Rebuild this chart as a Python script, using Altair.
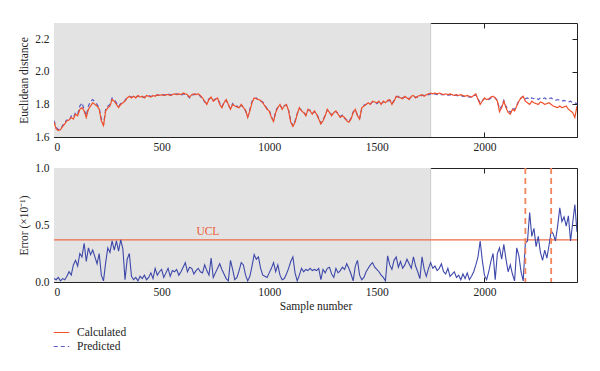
import altair as alt
import pandas as pd

STEP = 10  # sample spacing of the values

calculated = [
    1.69, 1.65, 1.64, 1.645, 1.665, 1.68, 1.70, 1.705, 1.72, 1.71,
    1.74, 1.73, 1.77, 1.78, 1.76, 1.72, 1.77, 1.79, 1.81, 1.80,
    1.79, 1.77, 1.70, 1.67, 1.76, 1.78, 1.79, 1.83, 1.82, 1.80,
    1.78, 1.80, 1.81, 1.82, 1.84, 1.85, 1.84, 1.85, 1.84, 1.855,
    1.845, 1.85, 1.84, 1.855, 1.85, 1.845, 1.855, 1.85, 1.86, 1.855,
    1.86, 1.855, 1.86, 1.86, 1.855, 1.86, 1.865, 1.86, 1.865, 1.86,
    1.87, 1.865, 1.86, 1.845, 1.86, 1.865, 1.86, 1.865, 1.855, 1.84,
    1.82, 1.80, 1.83, 1.845, 1.82, 1.83, 1.84, 1.80, 1.78, 1.81,
    1.83, 1.80, 1.77, 1.80, 1.79, 1.785, 1.78, 1.80, 1.78, 1.765,
    1.72, 1.76, 1.81, 1.84, 1.835, 1.83, 1.825, 1.81, 1.79, 1.77,
    1.76, 1.72, 1.695, 1.75, 1.78, 1.80, 1.77, 1.79, 1.80, 1.76,
    1.69, 1.665, 1.69, 1.74, 1.78, 1.76, 1.75, 1.73, 1.77, 1.76,
    1.74, 1.76, 1.74, 1.71, 1.68, 1.70, 1.73, 1.77, 1.75, 1.73,
    1.75, 1.76, 1.74, 1.72, 1.73, 1.72, 1.70, 1.69, 1.71, 1.75,
    1.77, 1.73, 1.71, 1.78, 1.79, 1.80, 1.81, 1.80, 1.82, 1.815,
    1.81, 1.82, 1.80, 1.82, 1.81, 1.825, 1.83, 1.80, 1.82, 1.85,
    1.845, 1.84, 1.835, 1.85, 1.84, 1.83, 1.85, 1.855, 1.84, 1.85,
    1.855, 1.86, 1.85, 1.86, 1.865, 1.87, 1.865, 1.87, 1.865, 1.87,
    1.865, 1.86, 1.865, 1.86, 1.865, 1.86, 1.855, 1.86, 1.855, 1.86,
    1.855, 1.85, 1.855, 1.85, 1.845, 1.855, 1.865, 1.83, 1.80, 1.82,
    1.84, 1.83, 1.835, 1.845, 1.85, 1.84, 1.82, 1.755, 1.78, 1.82,
    1.78, 1.75, 1.74, 1.77, 1.76, 1.79, 1.82, 1.84, 1.85, 1.82,
    1.81, 1.80, 1.82, 1.81, 1.805, 1.80, 1.815, 1.81, 1.80, 1.805,
    1.81, 1.80, 1.79, 1.785, 1.78, 1.79, 1.78, 1.785, 1.79, 1.77,
    1.76, 1.75, 1.72, 1.79,
]

predicted = [
    1.70, 1.66, 1.645, 1.65, 1.67, 1.69, 1.705, 1.70, 1.73, 1.72,
    1.75, 1.74, 1.79, 1.81, 1.77, 1.73, 1.79, 1.82, 1.83, 1.815,
    1.80, 1.78, 1.71, 1.675, 1.77, 1.79, 1.80, 1.84, 1.83, 1.81,
    1.79, 1.805, 1.815, 1.825, 1.845, 1.85, 1.845, 1.85, 1.845, 1.85,
    1.85, 1.845, 1.845, 1.85, 1.855, 1.85, 1.85, 1.855, 1.855, 1.86,
    1.855, 1.86, 1.855, 1.865, 1.86, 1.855, 1.86, 1.865, 1.86, 1.855,
    1.865, 1.86, 1.855, 1.84, 1.855, 1.86, 1.865, 1.86, 1.85, 1.835,
    1.815, 1.81, 1.835, 1.84, 1.825, 1.835, 1.835, 1.81, 1.785, 1.815,
    1.825, 1.795, 1.775, 1.805, 1.785, 1.79, 1.775, 1.795, 1.785, 1.76,
    1.725, 1.77, 1.82, 1.835, 1.84, 1.825, 1.82, 1.815, 1.795, 1.775,
    1.765, 1.725, 1.70, 1.76, 1.785, 1.795, 1.775, 1.795, 1.795, 1.765,
    1.70, 1.67, 1.70, 1.745, 1.775, 1.765, 1.755, 1.735, 1.765, 1.765,
    1.745, 1.755, 1.745, 1.715, 1.685, 1.705, 1.735, 1.765, 1.755, 1.735,
    1.755, 1.755, 1.745, 1.725, 1.735, 1.715, 1.705, 1.695, 1.715, 1.755,
    1.765, 1.735, 1.715, 1.775, 1.795, 1.80, 1.805, 1.805, 1.815, 1.82,
    1.805, 1.815, 1.805, 1.815, 1.815, 1.82, 1.825, 1.805, 1.825, 1.845,
    1.85, 1.835, 1.84, 1.845, 1.845, 1.835, 1.845, 1.85, 1.845, 1.845,
    1.85, 1.855, 1.855, 1.855, 1.86, 1.865, 1.86, 1.865, 1.86, 1.865,
    1.86, 1.86, 1.86, 1.855, 1.86, 1.855, 1.855, 1.855, 1.85, 1.855,
    1.85, 1.85, 1.85, 1.845, 1.845, 1.85, 1.86, 1.835, 1.81, 1.825,
    1.835, 1.835, 1.83, 1.84, 1.845, 1.84, 1.825, 1.77, 1.79, 1.825,
    1.79, 1.765, 1.75, 1.775, 1.77, 1.795, 1.825, 1.84, 1.85, 1.835,
    1.84, 1.83, 1.84, 1.835, 1.84, 1.83, 1.84, 1.835, 1.84, 1.83,
    1.835, 1.84, 1.83, 1.825, 1.83, 1.825, 1.82, 1.825, 1.82, 1.815,
    1.82, 1.81, 1.81, 1.805,
]

error = [
    0.03, 0.02, 0.04, 0.01, 0.03, 0.02, 0.05, 0.09, 0.06, 0.15,
    0.19, 0.14, 0.25, 0.22, 0.34, 0.18, 0.30, 0.24, 0.28, 0.22,
    0.16, 0.25, 0.06, 0.01, 0.17, 0.30, 0.26, 0.36, 0.28, 0.36,
    0.27, 0.37, 0.29, 0.02, 0.20, 0.25, 0.05, 0.02, 0.04, 0.01,
    0.05, 0.03, 0.06, 0.02, 0.04, 0.08, 0.03, 0.12, 0.06, 0.09,
    0.11, 0.04, 0.08, 0.12, 0.05, 0.10, 0.09, 0.11, 0.06, 0.09,
    0.13, 0.17, 0.09, 0.13, 0.12, 0.07, 0.10, 0.12, 0.09, 0.08,
    0.15, 0.10, 0.06, 0.21, 0.04, 0.08, 0.12, 0.16, 0.11, 0.07,
    0.03, 0.01, 0.19, 0.11, 0.02, 0.04, 0.10, 0.17, 0.15, 0.06,
    0.01, 0.05, 0.14, 0.24, 0.20, 0.22, 0.12, 0.06, 0.05, 0.04,
    0.08, 0.12, 0.17, 0.09, 0.15, 0.06, 0.02, 0.03, 0.07, 0.12,
    0.18, 0.22, 0.08, 0.01, 0.06, 0.12, 0.09, 0.11, 0.10, 0.12,
    0.10, 0.11, 0.10, 0.12, 0.02, 0.11, 0.08, 0.12, 0.13, 0.07,
    0.04, 0.12, 0.08, 0.10, 0.13, 0.11, 0.16, 0.12, 0.07, 0.01,
    0.14, 0.19, 0.06, 0.02, 0.04, 0.09, 0.12, 0.15, 0.17, 0.13,
    0.11, 0.09, 0.06, 0.04, 0.01, 0.23, 0.15, 0.11, 0.19, 0.22,
    0.13, 0.18, 0.12, 0.15, 0.20, 0.16, 0.12, 0.22, 0.14, 0.09,
    0.03, 0.22, 0.11, 0.05, 0.12, 0.17, 0.12, 0.14, 0.10, 0.12,
    0.16, 0.09, 0.07, 0.12, 0.05, 0.07, 0.09, 0.04, 0.06, 0.02,
    0.07, 0.03, 0.08, 0.02, 0.05, 0.09, 0.15, 0.22, 0.36, 0.19,
    0.06, 0.02, 0.09, 0.18, 0.25, 0.02, 0.25, 0.30, 0.20, 0.33,
    0.20, 0.09, 0.15, 0.07, 0.01, 0.30, 0.23, 0.09, 0.01, 0.34,
    0.36, 0.61, 0.40, 0.47, 0.31, 0.40, 0.26, 0.19, 0.28, 0.21,
    0.32, 0.45, 0.42, 0.36, 0.49, 0.65, 0.53, 0.57, 0.49, 0.58,
    0.36, 0.52, 0.68, 0.44,
]

series_names = ["Calculated", "Predicted"]
series_colors = ["#f0502a", "#5a5cc4"]
train_end = 1750
ucl_value = 0.37
ucl_label = "UCL"
ucl_label_x = 715
ucl_label_y = 0.44
fault_samples = [2190, 2310]
x_ticks = [0, 500, 1000, 1500, 2000]
top_y_ticks = [1.6, 1.8, 2.0, 2.2]
bot_y_ticks = [0.0, 0.5, 1.0]
x_domain = [0, 2430]
top_domain = [1.6, 2.3]
bot_domain = [0.0, 1.0]

W, H = 523, 114
FONT = "Liberation Serif"
INK = "#222222"

df_top = pd.concat([
    pd.DataFrame({"sample": [i * STEP for i in range(len(calculated))],
                  "value": calculated, "series": series_names[0]}),
    pd.DataFrame({"sample": [i * STEP for i in range(len(predicted))],
                  "value": predicted, "series": series_names[1]}),
])
df_err = pd.DataFrame({"sample": [i * STEP for i in range(len(error))], "error": error})
df_train = pd.DataFrame({"start": [0], "end": [train_end]})
df_ucl = pd.DataFrame({"ucl": [ucl_value], "label": [ucl_label],
                       "lx": [ucl_label_x], "ly": [ucl_label_y]})
df_fault = pd.DataFrame({"x": fault_samples})

xs = alt.Scale(domain=x_domain, nice=False, zero=False)
ys_top = alt.Scale(domain=top_domain, nice=False, zero=False)
ys_bot = alt.Scale(domain=bot_domain, nice=False, zero=False)

def x_axis(title=None, orient="bottom", labels=True):
    return alt.Axis(orient=orient, values=x_ticks, title=title, labels=labels,
                    offset=-5, tickSize=5, labelPadding=4, titlePadding=3,
                    format="d")

def y_axis(values, title=None, orient="left", labels=True, fmt=".1f"):
    return alt.Axis(orient=orient, values=values, title=title, labels=labels,
                    offset=-5, tickSize=5, labelPadding=5, titlePadding=5,
                    format=fmt)

legend = alt.Legend(title=None, orient="none", legendX=-1, legendY=301,
                    symbolType="stroke", symbolSize=240,
                    symbolStrokeWidth=1.2, labelFontSize=11.5,
                    labelFont=FONT, labelColor=INK, rowPadding=0,
                    labelOffset=7)
color = alt.Color("series:N", scale=alt.Scale(domain=series_names, range=series_colors),
                  legend=legend)
dash = alt.StrokeDash("series:N",
                      scale=alt.Scale(domain=series_names, range=[[1, 0], [4, 3]]),
                      legend=legend)

# ---- top panel ----
shade_top = alt.Chart(df_train).mark_rect(color="#e3e3e3").encode(
    x=alt.X("start:Q", scale=xs, axis=None), x2="end:Q",
    y=alt.value(0), y2=alt.value(H))
edge_top = alt.Chart(df_train).mark_rule(color="#cccccc", strokeWidth=1).encode(
    x=alt.X("end:Q", scale=xs, axis=None), y=alt.value(0), y2=alt.value(H))
pred_line = alt.Chart(df_top[df_top.series == series_names[1]]).mark_line(
    strokeWidth=1.2, clip=True).encode(
    x=alt.X("sample:Q", scale=xs, axis=x_axis(orient="top", labels=False)),
    y=alt.Y("value:Q", scale=ys_top, axis=y_axis(top_y_ticks, orient="right", labels=False)),
    color=color, strokeDash=dash)
calc_line = alt.Chart(df_top[df_top.series == series_names[0]]).mark_line(
    strokeWidth=1.2, clip=True).encode(
    x=alt.X("sample:Q", scale=xs, axis=x_axis()),
    y=alt.Y("value:Q", scale=ys_top, axis=y_axis(top_y_ticks, title="Euclidean distance")),
    color=color, strokeDash=dash)
top = alt.layer(shade_top, edge_top, pred_line, calc_line).resolve_axis(
    x="independent", y="independent").properties(width=W, height=H)

# ---- bottom panel ----
shade_bot = alt.Chart(df_train).mark_rect(color="#e3e3e3").encode(
    x=alt.X("start:Q", scale=xs, axis=None), x2="end:Q",
    y=alt.value(0), y2=alt.value(H))
edge_bot = alt.Chart(df_train).mark_rule(color="#cccccc", strokeWidth=1).encode(
    x=alt.X("end:Q", scale=xs, axis=None), y=alt.value(0), y2=alt.value(H))
ucl_rule = alt.Chart(df_ucl).mark_rule(color="#ef6a45", strokeWidth=1.2).encode(
    y=alt.Y("ucl:Q", scale=ys_bot, axis=y_axis(bot_y_ticks, orient="right", labels=False)))
ucl_text = alt.Chart(df_ucl).mark_text(color="#ef5a35", font=FONT, fontSize=11.5,
                                       baseline="middle", align="center").encode(
    x=alt.X("lx:Q", scale=xs, axis=None),
    y=alt.Y("ly:Q", scale=ys_bot, axis=None), text="label:N")
err_line = alt.Chart(df_err).mark_line(color="#3d48aa", strokeWidth=1.1, clip=True).encode(
    x=alt.X("sample:Q", scale=xs, axis=x_axis(title="Sample number")),
    y=alt.Y("error:Q", scale=ys_bot, axis=y_axis(bot_y_ticks, title="Error (×10⁻¹)")))
fault = alt.Chart(df_fault).mark_rule(color="#f4845a", strokeWidth=1.8,
                                      strokeDash=[6, 4]).encode(
    x=alt.X("x:Q", scale=xs, axis=x_axis(orient="top", labels=False)),
    y=alt.value(0), y2=alt.value(H))
bottom = alt.layer(shade_bot, edge_bot, ucl_rule, ucl_text, err_line, fault).resolve_axis(
    x="independent", y="independent").properties(width=W, height=H)

chart = alt.vconcat(top, bottom, spacing=8).properties(
    padding={"left": 10, "top": 14, "right": 5, "bottom": 5}
).configure(font=FONT).configure_view(stroke=INK, strokeWidth=1).configure_axis(
    grid=False, domain=False, tickColor=INK, tickWidth=1,
    labelFont=FONT, labelFontSize=11.5, labelColor=INK,
    titleFont=FONT, titleFontSize=11.5, titleFontWeight="normal", titleColor=INK)

chart.save("out.html", embed_options={"renderer": "svg", "actions": False})
